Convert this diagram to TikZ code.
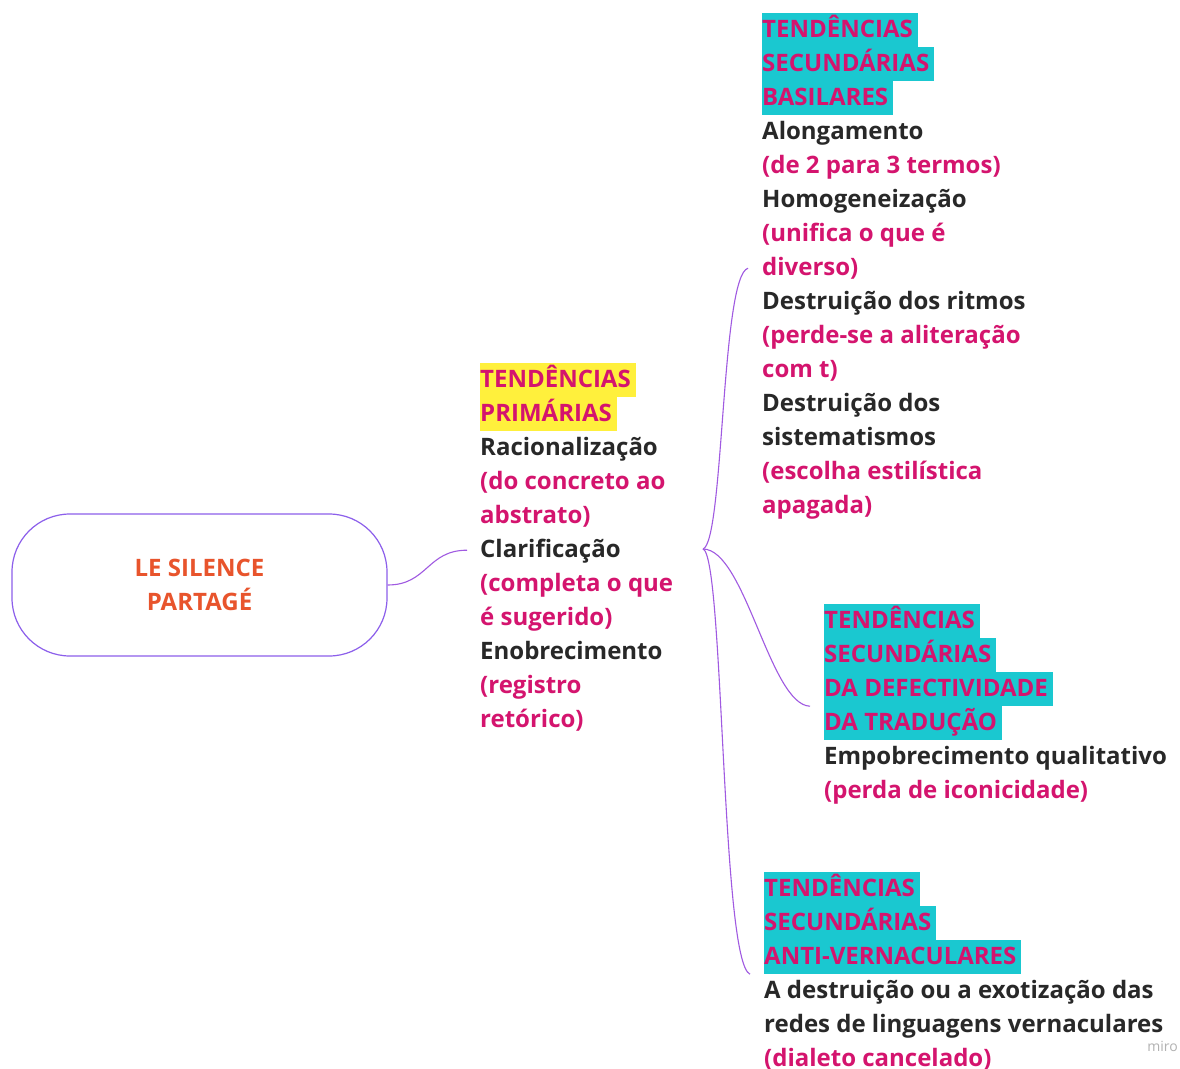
\documentclass[tikz,border=0pt]{standalone}
\usepackage{fontspec}
\setmainfont{Open Sans}
\definecolor{inkdark}{RGB}{40,40,40}
\definecolor{inkpink}{RGB}{212,20,110}
\definecolor{inkorange}{RGB}{232,84,44}
\definecolor{hlcyan}{RGB}{26,200,208}
\definecolor{hlyellow}{RGB}{255,240,60}
\definecolor{linkviolet}{RGB}{160,90,225}
\definecolor{boxviolet}{RGB}{140,95,235}
\setlength{\fboxsep}{0pt}
% full-line strut: 24pt above the baseline, 10pt below
\newcommand\linestrut{\rule[-10pt]{0pt}{34pt}}
\newcommand\hlc[1]{\colorbox{hlcyan}{\linestrut\textcolor{inkpink}{#1}\hspace{5pt}}}
\newcommand\hly[1]{\colorbox{hlyellow}{\linestrut\textcolor{inkpink}{#1}\hspace{5pt}}}
\newcommand\dk[1]{\linestrut\textcolor{inkdark}{#1}}
\newcommand\pk[1]{\linestrut\textcolor{inkpink}{#1}}
\begin{document}
\begin{tikzpicture}[x=1pt,y=-1pt,
  block/.style={anchor=north west,inner sep=0pt,align=left,
    font=\fontsize{24}{34}\selectfont\bfseries},
  rootbox/.style={draw=boxviolet,line width=1.2pt,rounded corners=58pt,
    minimum width=375pt,minimum height=142pt,align=center,
    text=inkorange,font=\fontsize{24}{34}\selectfont\bfseries},
  link/.style={draw=linkviolet,line width=1.1pt}]
\useasboundingbox (0,0) rectangle (1180,1068);
\fill[white] (0,0) rectangle (1180,1068);

\node[rootbox] (root) at (199.5,585) {LE SILENCE\\PARTAGÉ};

\node[block] (prim) at (480,363) {%
  \hly{TENDÊNCIAS}\\
  \hly{PRIMÁRIAS}\\
  \dk{Racionalização}\\
  \pk{(do concreto ao}\\
  \pk{abstrato)}\\
  \dk{Clarificação}\\
  \pk{(completa o que}\\
  \pk{é sugerido)}\\
  \dk{Enobrecimento}\\
  \pk{(registro}\\
  \pk{retórico)}};

\node[block] (bas) at (762,13) {%
  \hlc{TENDÊNCIAS}\\
  \hlc{SECUNDÁRIAS}\\
  \hlc{BASILARES}\\
  \dk{Alongamento}\\
  \pk{(de 2 para 3 termos)}\\
  \dk{Homogeneização}\\
  \pk{(unifica o que é}\\
  \pk{diverso)}\\
  \dk{Destruição dos ritmos}\\
  \pk{(perde-se a aliteração}\\
  \pk{com t)}\\
  \dk{Destruição dos}\\
  \dk{sistematismos}\\
  \pk{(escolha estilística}\\
  \pk{apagada)}};

\node[block] (def) at (824,604) {%
  \hlc{TENDÊNCIAS}\\
  \hlc{SECUNDÁRIAS}\\
  \hlc{DA DEFECTIVIDADE}\\
  \hlc{DA TRADUÇÃO}\\
  \dk{Empobrecimento qualitativo}\\
  \pk{(perda de iconicidade)}};

\node[block] (anti) at (764,872) {%
  \hlc{TENDÊNCIAS}\\
  \hlc{SECUNDÁRIAS}\\
  \hlc{ANTI-VERNACULARES}\\
  \dk{A destruição ou a exotização das}\\
  \dk{redes de linguagens vernaculares}\\
  \pk{(dialeto cancelado)}};

\node[anchor=south east,inner sep=0pt,text=black!30,
  font=\fontsize{14}{16}\selectfont] (mark) at (1178,1052) {miro};

% branch point between the primary and the secondary tendencies
\coordinate (hub) at (703,549);

\draw[link] (root.east) .. controls +(40,0) and +(-40,0) .. ([xshift=-13pt]prim.west);
\draw[link] (hub) .. controls (724,542) and (721,276) .. ([xshift=-14pt]bas.west);
\draw[link] (hub) .. controls (745,549) and (770,705) .. ([xshift=-14pt]def.west);
\draw[link] (hub) .. controls (724,556) and (721,962) .. ([xshift=-14pt]anti.west);
\end{tikzpicture}
\end{document}
